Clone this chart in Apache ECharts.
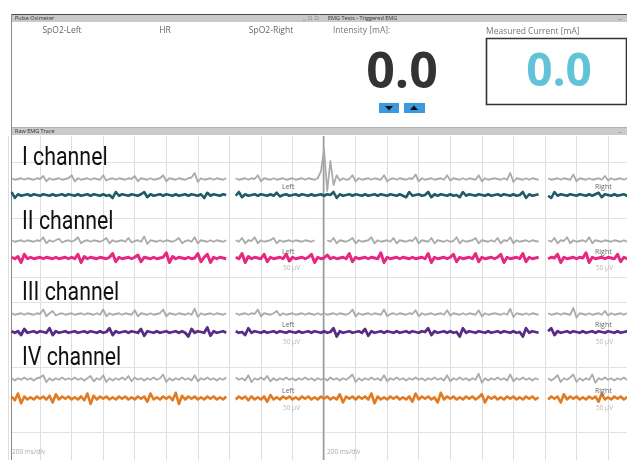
<!DOCTYPE html>
<html>
<head>
<meta charset="utf-8">
<script src="https://cdn.jsdelivr.net/npm/echarts@6/dist/echarts.min.js"></script>
<style>
  html, body { margin: 0; padding: 0; background: #fff; }
  #chart { width: 627px; height: 460px; }
</style>
</head>
<body>
<div id="chart"></div>
<script>
// time base of the trace window
var msPerDiv = 200;
var sampleMs = 20;
var windowMs = 3920;

var channelNames = ['I channel', 'II channel', 'III channel', 'IV channel'];

// raw samples (one row = one 200 ms division, null = sweep gap)
var gray1 = [
  null,1,-1,0,1,-1,1,0,-1,1,
  0,4,-3,1,-1,0,1,-1,0,1,
  5,-3,1,-1,0,1,-1,1,0,-1,
  5,-2,0,1,-1,1,0,-1,1,0,
  4,-3,1,0,-1,1,-1,0,1,5,
  -3,1,0,-1,1,0,-1,1,2,8,
  -4,1,-1,0,1,-1,1,0,-1,1,
  null,null,1,-1,0,1,-1,1,0,5,
  -3,1,0,-1,1,-1,0,1,-1,0,
  1,-1,0,1,-1,1,0,-1,1,10,
  40,-16,24,-8,5,-2,1,-1,0,5,
  -3,1,-1,0,1,-1,1,0,-1,5,
  -3,0,1,-1,1,0,-1,1,0,6,
  -3,1,-1,0,1,-1,0,1,-1,5,
  -2,1,0,-1,1,-1,1,0,-1,5,
  -3,1,-1,0,1,0,-1,1,-1,8,
  -4,1,0,-1,1,-1,1,0,-1,null,
  null,1,-1,0,1,-1,1,0,-1,6,
  -3,1,0,-1,1,-1,0,1,-1,4,
  -2,1,-1,0,1,-1,1,0,-1,1
];
var teal1 = [
  null,4,-4,1,-1,0,1,-1,1,0,
  -1,1,0,-1,1,-1,0,1,-1,1,
  0,-1,1,-1,0,1,-1,1,0,-1,
  1,-1,0,-4,4,-1,1,0,-1,1,
  0,-1,1,4,-3,1,-1,0,1,-1,
  1,0,-1,1,-1,0,1,-1,1,0,
  -1,1,-4,3,-1,1,0,-1,1,0,
  null,null,-1,4,-3,1,-1,0,1,-1,
  1,0,-1,1,-1,3,-2,0,1,-1,
  0,1,-1,1,0,-1,1,-1,0,1,
  -1,1,0,4,-4,1,-1,0,1,-1,
  1,0,-1,1,-1,0,1,-1,1,0,
  -1,1,0,-1,1,-1,-3,4,-1,0,
  1,-1,0,4,-3,1,-1,1,0,-1,
  1,-1,0,-3,4,-1,1,0,-1,1,
  0,-1,1,-1,0,1,-1,1,0,-1,
  1,-1,0,4,-4,1,-1,0,1,null,
  null,-1,-4,4,-1,1,0,-1,1,0,
  -1,1,0,-1,1,-1,1,3,-3,1,
  0,-1,1,-1,0,1,-1,1,0,-1
];
var gray2 = [
  null,1,-1,0,1,-1,1,0,-1,1,
  0,5,-3,1,-1,1,3,-2,0,1,
  -1,1,5,-3,0,1,-1,1,0,-1,
  1,4,-3,1,-1,0,1,-1,4,-2,
  0,1,-1,6,-4,1,0,-1,1,-1,
  1,0,-1,1,4,-3,0,1,-1,5,
  -3,1,0,-1,1,-1,1,0,-1,1,
  null,null,1,-1,4,-3,1,0,5,-3,
  1,-1,0,1,4,-3,1,-1,0,1,
  -1,1,0,-1,1,0,-1,1,null,null,
  null,1,-1,4,-3,1,0,-1,1,4,
  -3,1,-1,0,1,5,-3,1,-1,0,
  1,-1,4,-3,1,0,-1,1,0,5,
  -3,1,0,-1,4,-3,1,0,-1,1,
  -1,0,5,-3,1,-1,0,1,4,-3,
  1,0,-1,1,-1,4,-3,1,0,5,
  -3,1,-1,0,1,-1,1,0,-1,null,
  null,1,-1,4,-3,1,0,5,-3,1,
  -1,0,1,-1,5,-3,1,0,-1,1,
  0,-1,1,0,-1,1,-1,0,1,-1
];
var pink2 = [
  null,1,-1,2,-6,5,-1,1,-1,0,
  1,-1,1,0,-1,1,-1,0,1,-1,
  1,-1,5,-6,2,-1,1,0,-1,1,
  0,-1,1,6,-5,1,-1,0,1,-1,
  1,4,-5,1,0,-1,1,-1,0,1,
  7,-6,2,-1,1,0,-1,1,-1,0,
  6,-5,1,5,-6,1,-1,1,0,-1,
  null,null,1,-1,6,-6,2,-1,1,0,
  -1,5,-5,1,-1,0,1,-1,5,-4,
  1,-1,0,1,-1,1,5,-6,1,-1,
  0,4,-1,1,-1,0,1,-1,6,-5,
  1,-1,0,1,-1,1,0,-1,7,-6,
  1,-1,0,1,-1,1,0,-1,1,-1,
  0,1,-1,6,-6,1,-1,0,1,-1,
  1,5,-5,1,-1,0,1,-1,6,-5,
  1,-1,0,1,-1,1,5,-6,1,-1,
  0,1,-1,6,-5,1,-1,0,1,null,
  null,-1,1,0,5,-6,1,-1,0,1,
  -1,1,0,7,-6,1,-1,0,1,-1,
  1,0,-1,5,-5,1,-1,0,1,-1
];
var gray3 = [
  null,1,-1,0,1,-1,1,0,-1,1,
  0,6,-3,1,4,-2,0,1,-1,0,
  1,-1,0,1,-1,1,0,-1,1,-1,
  6,-3,1,-1,0,1,-1,1,0,-1,
  5,-3,1,0,-1,1,-1,0,1,6,
  -3,1,0,-1,1,0,-1,1,-1,7,
  -4,1,-1,0,1,-1,1,0,-1,1,
  null,null,1,-1,0,1,-1,1,0,6,
  -3,1,0,-1,1,4,-2,1,-1,0,
  1,-1,0,1,-1,1,0,-1,1,-1,
  1,-1,0,1,-1,1,0,-1,1,6,
  -3,1,-1,0,1,-1,1,0,-1,6,
  -3,0,1,-1,1,0,-1,1,0,5,
  -3,1,-1,0,1,-1,0,1,-1,5,
  -2,1,0,-1,1,-1,1,0,-1,5,
  -3,1,-1,0,1,0,-1,1,-1,7,
  -4,1,0,-1,1,-1,1,0,-1,null,
  null,1,-1,0,1,-1,1,0,-1,8,
  -5,1,0,-1,1,-1,0,1,-1,4,
  -2,1,-1,0,1,-1,1,0,-1,1
];
var purple3 = [
  null,1,-1,1,-4,4,-1,0,1,-1,
  1,0,-1,5,-4,1,-1,0,1,-1,
  0,1,-1,0,1,-1,1,0,-1,1,
  -1,0,5,-4,1,-1,0,1,-1,1,
  0,-1,4,-5,1,0,-1,1,-1,0,
  1,-1,0,1,-1,1,-1,-6,4,-1,
  1,0,-1,6,-5,1,-1,0,1,-1,
  null,null,1,-1,0,-4,5,-1,1,0,
  -1,1,-1,0,1,-1,1,0,-1,1,
  0,-1,1,-1,0,1,-1,1,0,-1,
  1,-1,0,5,-6,1,-1,0,1,-1,
  0,1,-1,4,-5,1,-1,0,1,-1,
  1,0,-1,1,-1,0,1,-1,1,0,
  -1,1,0,5,-4,1,-1,0,1,-1,
  1,-1,0,-6,5,-1,1,0,-1,1,
  0,-1,1,-1,0,1,-1,1,0,-1,
  1,-1,0,-6,5,-1,1,0,-1,null,
  null,1,5,-4,1,-1,0,1,-1,1,
  0,-1,1,-1,0,1,-1,1,0,-1,
  1,0,-1,1,-1,0,1,-1,1,0
];
var gray4 = [
  null,1,-2,1,-1,2,-1,1,-2,1,
  2,5,-4,1,-2,1,-1,2,-1,1,
  -1,2,-1,1,-2,1,4,-3,1,-1,
  5,-4,1,-2,1,-1,2,-1,4,-3,
  2,-1,1,-2,1,-1,2,-1,1,6,
  -4,1,-2,1,-1,2,-1,1,-2,5,
  -3,1,-1,2,-1,1,-2,1,-1,2,
  null,null,2,-1,1,-2,5,-4,1,-1,
  2,-1,4,-3,1,-2,1,-1,2,-1,
  1,-2,1,-1,2,-1,1,-2,1,-1,
  1,-2,2,-1,1,-2,1,-1,2,6,
  -4,1,-2,1,-1,2,-1,1,-2,5,
  -3,1,-1,2,-1,1,-2,1,-1,2,
  -1,1,-2,1,-1,2,-1,1,-2,5,
  -3,1,-1,2,-1,1,-2,1,-1,7,
  -5,1,-2,1,-1,2,-1,1,-2,6,
  -3,1,-1,2,-1,1,-2,1,-1,null,
  null,1,-2,1,5,-4,1,-1,2,6,
  -4,1,-2,1,-1,6,-5,1,-1,2,
  -1,1,-2,1,-1,2,-1,1,-2,1
];
var orange4 = [
  null,2,-3,6,-7,2,-2,1,-2,2,
  -1,2,-2,3,-6,5,-2,2,-1,2,
  -2,1,-2,2,-3,6,-8,3,-2,2,
  -1,2,-2,1,-2,2,-1,2,-2,1,
  -2,2,-1,2,-5,6,-2,1,-2,2,
  -1,2,-3,7,-8,3,-2,2,-1,2,
  -2,1,-2,2,-1,2,-2,1,-2,2,
  null,null,-2,2,-1,2,-3,2,-2,1,
  -2,2,-5,4,-2,1,-2,2,-1,2,
  -2,1,-2,2,-1,2,-2,1,-2,2,
  -1,2,-2,1,-2,5,-6,2,-1,2,
  -2,2,-1,2,-2,6,-7,2,-2,1,
  -2,2,-1,2,-2,1,-2,2,-5,6,
  -2,2,-1,2,-2,1,-6,7,-2,2,
  -1,2,-2,1,-2,2,-1,2,-2,1,
  5,-6,2,-1,2,-2,1,-2,2,-1,
  2,-2,1,-2,2,-1,2,-2,1,null,
  null,-2,2,-1,2,-6,5,-2,2,-1,
  2,-2,1,-2,2,-1,2,-5,6,-2,
  1,-2,2,-1,2,-2,1,-2,2,-1
];

// layout of the eight traces (screen centre in px)
var traces = [
  { data: gray1,   color: '#ababab', width: 1.8, center: 179 },
  { data: teal1,   color: '#1d5a6a', width: 2.6, center: 195 },
  { data: gray2,   color: '#ababab', width: 1.8, center: 241 },
  { data: pink2,   color: '#e6287f', width: 3.0, center: 258 },
  { data: gray3,   color: '#ababab', width: 1.8, center: 314 },
  { data: purple3, color: '#5a2b86', width: 2.8, center: 332 },
  { data: gray4,   color: '#ababab', width: 1.8, center: 379 },
  { data: orange4, color: '#e27a22', width: 2.6, center: 398 }
];
var labelY = [158, 222, 293, 358];
var sideLabelY = [[187, 205], [252, 268], [325, 342], [391, 408]];

function toPoints(values) {
  return values.map(function (v, i) {
    return [i * sampleMs, v === null ? '-' : v];
  });
}

var gridLeft = 8.5;
var grids = [{ left: gridLeft, right: 0, top: 136, bottom: 0 }];
var xAxes = [{
  type: 'value', gridIndex: 0, min: 0, max: windowMs, interval: msPerDiv,
  axisLine: { show: false }, axisTick: { show: false }, axisLabel: { show: false },
  splitLine: { show: true, lineStyle: { color: '#dedede', width: 1 } }
}];
var yAxes = [{ type: 'value', gridIndex: 0, min: 0, max: 1, show: false, splitLine: { show: false } }];
var series = [];

traces.forEach(function (t, k) {
  var gi = k + 1;
  grids.push({ left: gridLeft, right: 0, top: t.center - 30, height: 60 });
  xAxes.push({ type: 'value', gridIndex: gi, min: 0, max: windowMs, show: false });
  yAxes.push({ type: 'value', gridIndex: gi, min: -40, max: 40, show: false });
  series.push({
    type: 'line', xAxisIndex: gi, yAxisIndex: gi, data: toPoints(t.data),
    showSymbol: false, clip: false, connectNulls: false, silent: true,
    lineStyle: { color: t.color, width: t.width, join: 'round' }, z: 3
  });
});

var uiFont = '"Open Sans", "Noto Sans", sans-serif';
function txt(x, y, text, size, fill, extra) {
  var s = { x: x, y: y, text: text, font: size + 'px ' + uiFont, fill: fill,
            textAlign: 'left', textVerticalAlign: 'middle' };
  if (extra) for (var key in extra) s[key] = extra[key];
  return { type: 'text', z: 20, style: s };
}
function hline(y, x1, x2, color, w) {
  return { type: 'line', z: 1, shape: { x1: x1, y1: y, x2: x2, y2: y }, style: { stroke: color, lineWidth: w || 1 } };
}

var graphics = [
  // window title bars
  { type: 'rect', z: 1, shape: { x: 12, y: 14, width: 615, height: 8 }, style: { fill: '#c9c9c9' } },
  hline(14.5, 12, 627, '#4a4a4a', 1),
  { type: 'rect', z: 1, shape: { x: 12, y: 127, width: 615, height: 8 }, style: { fill: '#cacaca' } },
  hline(127.5, 12, 627, '#b0b0b0', 1),
  { type: 'line', z: 2, shape: { x1: 11.5, y1: 14, x2: 11.5, y2: 460 }, style: { stroke: '#8a8a8a', lineWidth: 1 } },
  txt(15, 18, 'Pulse Oximeter', 5.5, '#333'),
  txt(303, 18, '_  \u25a1', 5.5, '#444'),
  txt(315, 18, '\u25a1', 5.5, '#444'),
  txt(328, 18, 'EMG Tests - Triggered EMG', 5.5, '#333'),
  txt(619, 17, '_', 5.5, '#444'),
  txt(15, 131, 'Raw EMG Trace', 5.5, '#333'),
  txt(619, 130, '_', 5.5, '#444'),

  // pulse oximeter panel
  txt(62, 31, 'SpO2-Left', 8.5, '#666', { textAlign: 'center' }),
  txt(165, 31, 'HR', 8.5, '#666', { textAlign: 'center' }),
  txt(271, 31, 'SpO2-Right', 8.5, '#666', { textAlign: 'center' }),

  // triggered EMG panel
  txt(333, 31, 'Intensity [mA]:', 8.5, '#777'),
  txt(486, 32, 'Measured Current [mA]', 8.5, '#777'),
  { type: 'rect', z: 5, shape: { x: 486.5, y: 38.5, width: 140, height: 66 },
    style: { fill: 'none', stroke: '#333', lineWidth: 1.6 } },
  txt(402, 74, '0.0', 50, '#333', { textAlign: 'center', font: 'bold 50px ' + uiFont }),
  txt(559, 73, '0.0', 46, '#62c3d8', { textAlign: 'center', font: 'bold 46px ' + uiFont }),
  { type: 'rect', z: 5, shape: { x: 379, y: 103, width: 20, height: 10 }, style: { fill: '#3b9ade' } },
  { type: 'rect', z: 5, shape: { x: 404, y: 103, width: 21, height: 10 }, style: { fill: '#3b9ade' } },
  { type: 'polygon', z: 6, shape: { points: [[385, 106], [393, 106], [389, 110.5]] }, style: { fill: '#111' } },
  { type: 'polygon', z: 6, shape: { points: [[410, 110], [418, 110], [414, 105.5]] }, style: { fill: '#111' } },

  // trace area rulings
  hline(162.5, 12, 627, '#e2e2e2'),
  hline(218.5, 12, 627, '#e2e2e2'),
  hline(277.5, 12, 627, '#e2e2e2'),
  hline(302.5, 12, 627, '#e2e2e2'),
  hline(367.5, 12, 627, '#e2e2e2'),
  hline(432.5, 12, 627, '#e2e2e2'),
  { type: 'line', z: 2, shape: { x1: 323.5, y1: 136, x2: 323.5, y2: 460 }, style: { stroke: '#9c9c9c', lineWidth: 1.5 } },
  txt(12, 452, '200 ms/div', 6.5, '#aaa'),
  txt(327, 452, '200 ms/div', 6.5, '#aaa')
];

channelNames.forEach(function (name, k) {
  graphics.push({ type: 'text', z: 20, x: 22, y: labelY[k], scaleX: 0.82, style: {
    x: 0, y: 0, text: name, fill: '#111',
    font: '26px Roboto, "Noto Sans", sans-serif',
    textAlign: 'left', textVerticalAlign: 'middle' } });
  graphics.push(txt(282, sideLabelY[k][0], 'Left', 7, '#666'));
  graphics.push(txt(595, sideLabelY[k][0], 'Right', 7, '#666'));
  if (k > 0) {
    graphics.push(txt(283, sideLabelY[k][1], '50 \u00b5V', 6.5, '#b5b5b5'));
    graphics.push(txt(596, sideLabelY[k][1], '50 \u00b5V', 6.5, '#b5b5b5'));
  }
});

var chart = echarts.init(document.getElementById('chart'));
chart.setOption({
  animation: false,
  backgroundColor: '#fff',
  grid: grids,
  xAxis: xAxes,
  yAxis: yAxes,
  series: series,
  graphic: { elements: graphics }
});
</script>
</body>
</html>
